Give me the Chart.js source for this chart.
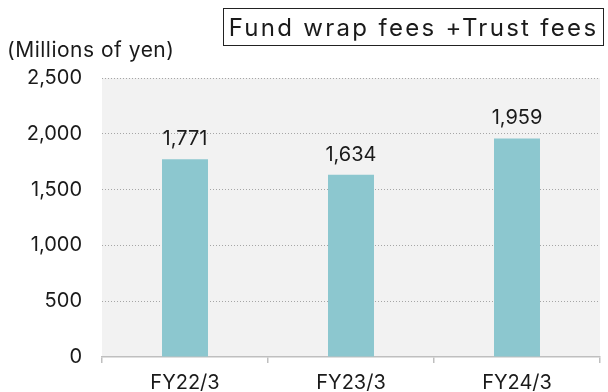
<!DOCTYPE html>
<html>
<head>
<meta charset="utf-8">
<script src="https://cdn.jsdelivr.net/npm/chart.js@4"></script>
<style>
  html, body { margin: 0; padding: 0; background: #fff; }
  #wrap { position: relative; width: 608px; height: 392px; font-family: Inter, sans-serif; color: #1a1a1a; }
  #chart { position: absolute; left: 0; top: 0; }
  #title {
    position: absolute; left: 223px; top: 8px; width: 379px; height: 36px;
    border: 1.5px solid #222; box-sizing: content-box;
    font-size: 24px; line-height: 37px; letter-spacing: 2.3px; text-align: center; white-space: nowrap;
  }
  #unit { position: absolute; left: 7px; top: 36px; font-size: 21px; line-height: 28px; letter-spacing: 0.5px; white-space: nowrap; }
</style>
</head>
<body>
<div id="wrap">
  <canvas id="chart" width="608" height="392"></canvas>
  <div id="title">Fund wrap fees +Trust fees</div>
  <div id="unit">(Millions of yen)</div>
</div>
<script>
// periodos e valores (milhões de ienes)
const labels = ['FY22/3', 'FY23/3', 'FY24/3'];
const fees = [1771, 1634, 1959];
const yTicks = [0, 500, 1000, 1500, 2000, 2500];

const FONT = 'Inter, sans-serif';

// fundo cinza da área do gráfico
const plotBackground = {
    id: 'plotBackground',
    beforeDraw(chart) {
        const { ctx, chartArea: a } = chart;
        ctx.save();
        ctx.fillStyle = '#f2f2f2';
        ctx.fillRect(a.left, a.top, a.right - a.left, a.bottom - a.top);
        ctx.restore();
    }
};

// rótulos de valor acima das barras
const valueLabels = {
    id: 'valueLabels',
    afterDatasetsDraw(chart) {
        const { ctx } = chart;
        const meta = chart.getDatasetMeta(0);
        ctx.save();
        ctx.font = '20px ' + FONT;
        ctx.fillStyle = '#1a1a1a';
        ctx.textAlign = 'center';
        ctx.textBaseline = 'middle';
        meta.data.forEach((bar, i) => {
            ctx.fillText(fees[i].toLocaleString('en-US'), bar.x, bar.y - 20);
        });
        ctx.restore();
    }
};

new Chart(document.getElementById('chart'), {
    type: 'bar',
    data: {
        labels: labels,
        datasets: [{
            data: fees,
            backgroundColor: '#8cc7cf',
            borderWidth: 0,
            barPercentage: 0.277,
            categoryPercentage: 1
        }]
    },
    options: {
        responsive: false,
        animation: false,
        events: [],
        layout: { padding: { top: 78, right: 8, left: 0, bottom: 0 } },
        plugins: { legend: { display: false }, tooltip: { enabled: false } },
        scales: {
            x: {
                afterFit: (scale) => { scale.height = 35; },
                grid: { drawOnChartArea: false, drawTicks: true, tickLength: 6, color: '#bfbfbf', lineWidth: 1.5 },
                border: { display: true, color: '#bfbfbf', width: 1.5 },
                ticks: { color: '#1a1a1a', font: { family: FONT, size: 20 }, padding: 8 }
            },
            y: {
                min: 0,
                max: 2500,
                afterFit: (scale) => { scale.width = 102; },
                afterBuildTicks: (scale) => { scale.ticks = yTicks.map(v => ({ value: v })); },
                grid: {
                    drawTicks: false,
                    color: (c) => c.tick.value === 0 ? 'rgba(0,0,0,0)' : '#a6a6a6',
                    lineWidth: 1
                },
                border: { display: false, dash: [1, 2] },
                ticks: {
                    color: '#1a1a1a',
                    font: { family: FONT, size: 20 },
                    padding: 20,
                    callback: (v) => v.toLocaleString('en-US')
                }
            }
        }
    },
    plugins: [plotBackground, valueLabels]
});
</script>
</body>
</html>
